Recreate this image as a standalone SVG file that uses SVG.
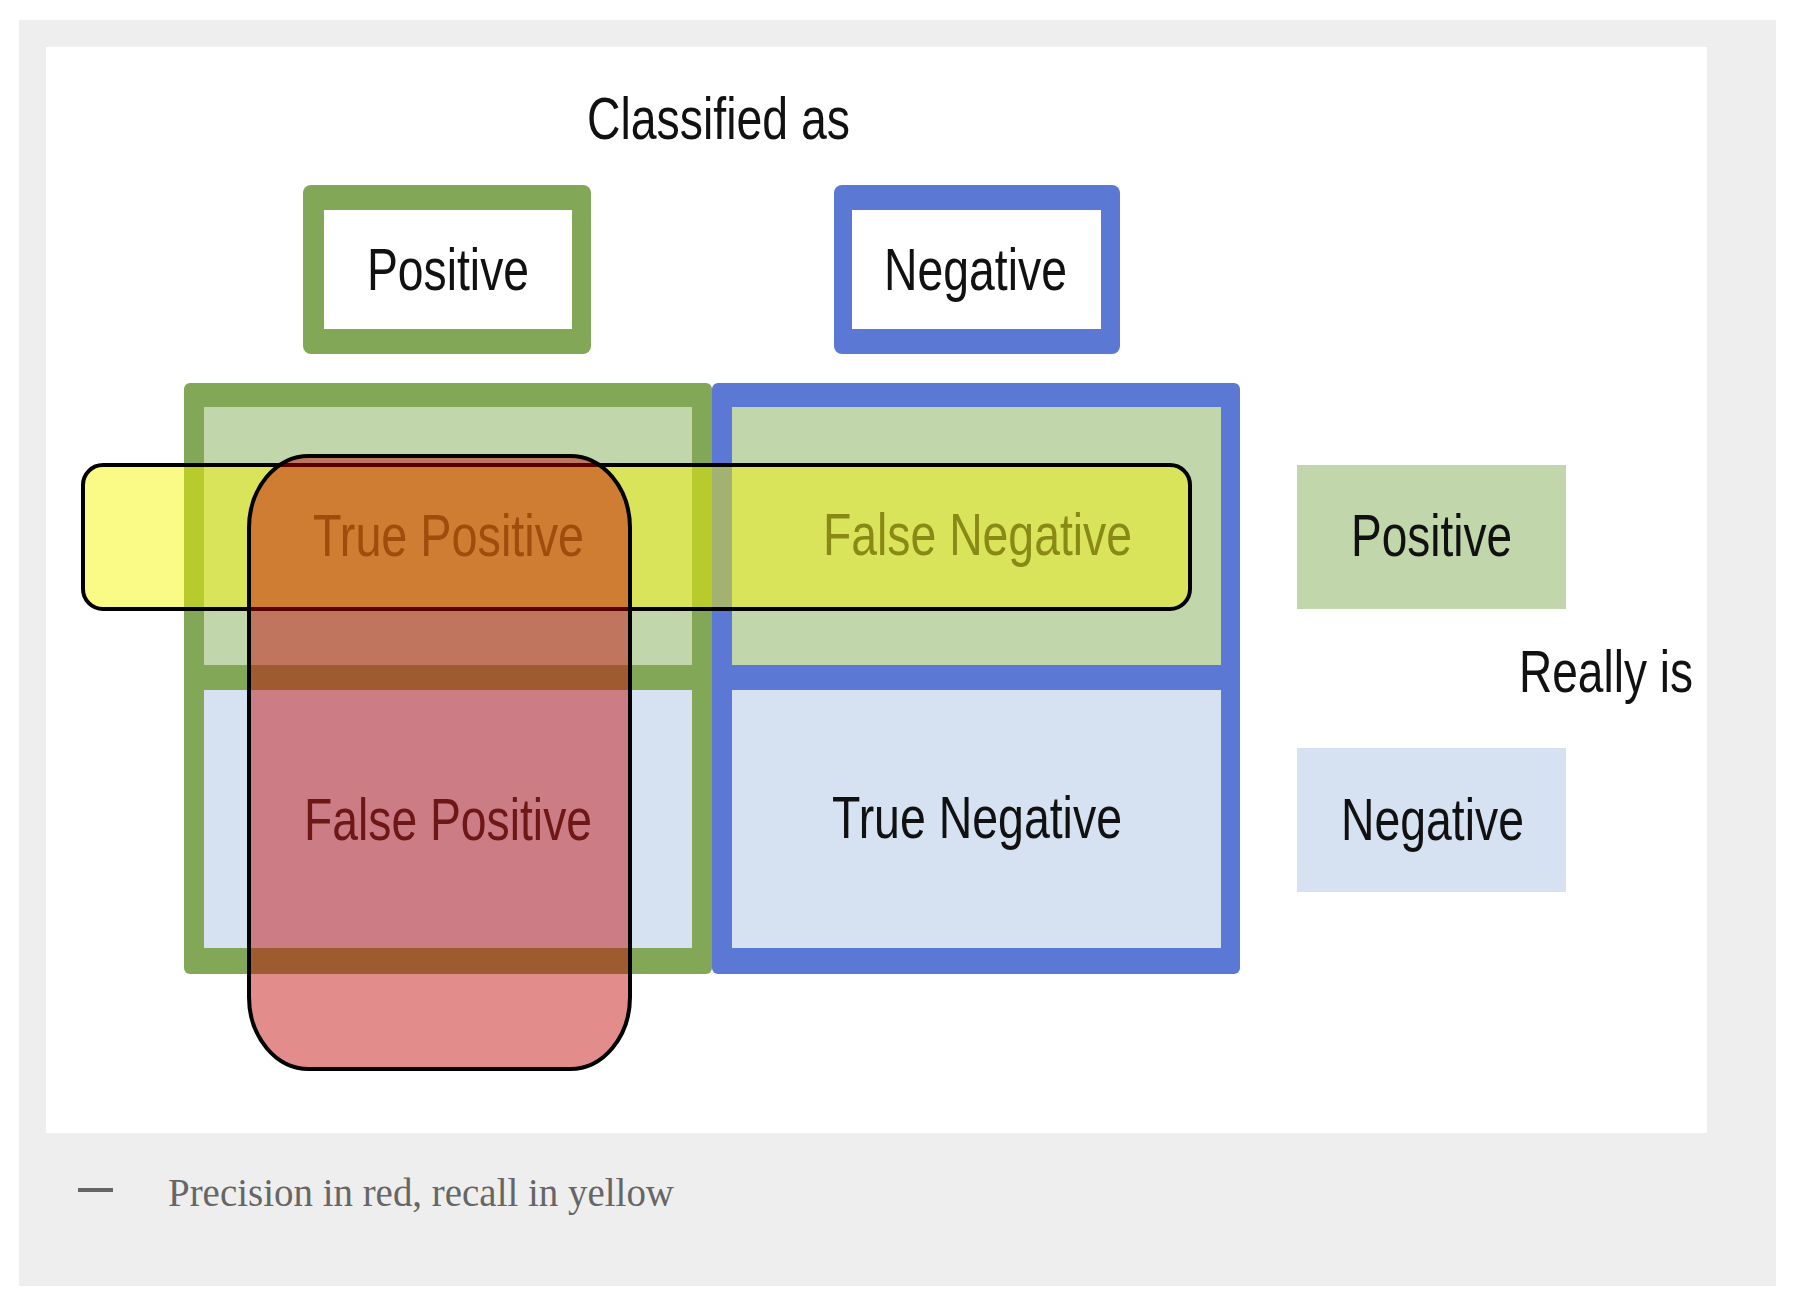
<svg xmlns="http://www.w3.org/2000/svg" width="1794" height="1311" viewBox="0 0 1794 1311">
  <defs>
    <style>
      .lbl { font-family: "Liberation Sans", Arial, sans-serif; font-size: 60px; fill: #111111; }
      .cell { font-family: "Liberation Sans", Arial, sans-serif; font-size: 60px; fill: #2b2b2b; }
      .green { fill: #82A756; }
      .blue { fill: #5B78D5; }
      .lgreen { fill: #C2D6AC; }
      .lblue { fill: #D6E2F2; }
      .white { fill: #FFFFFF; }
      .recall { fill: #F4F400; fill-opacity: 0.47; stroke: #000000; stroke-width: 4; }
      .precision { fill: #BE0000; fill-opacity: 0.45; stroke: #000000; stroke-width: 4; }
      .caption { font-family: "Liberation Serif", "DejaVu Serif", serif; font-size: 39px; fill: #666666; }
    </style>
  </defs>

  <rect x="0" y="0" width="1794" height="1311" fill="#FFFFFF"/>
  <rect x="19" y="20" width="1757" height="1266" fill="#EEEEEE"/>
  <rect x="46" y="47" width="1661" height="1086" fill="#FFFFFF"/>

  <g id="title">
    <text class="lbl" x="587" y="139" textLength="263" lengthAdjust="spacingAndGlyphs">Classified as</text>
  </g>

  <g id="header-positive">
    <rect class="green" x="303" y="185" width="288" height="169" rx="8"/>
    <rect class="white" x="324" y="210" width="248" height="119"/>
    <text class="lbl" x="367" y="290" textLength="162" lengthAdjust="spacingAndGlyphs">Positive</text>
  </g>

  <g id="header-negative">
    <rect class="blue" x="834" y="185" width="286" height="169" rx="8"/>
    <rect class="white" x="852" y="210" width="249" height="119"/>
    <text class="lbl" x="884" y="290" textLength="183" lengthAdjust="spacingAndGlyphs">Negative</text>
  </g>

  <g id="column-positive">
    <rect class="green" x="184" y="383" width="528" height="591" rx="6"/>
    <rect class="lgreen" x="204" y="407" width="488" height="258"/>
    <rect class="lblue" x="204" y="690" width="488" height="258"/>
  </g>

  <g id="column-negative">
    <rect class="blue" x="712" y="383" width="528" height="591" rx="6"/>
    <rect class="lgreen" x="732" y="407" width="489" height="258"/>
    <rect class="lblue" x="732" y="690" width="489" height="258"/>
  </g>

  <g id="cell-true-positive">
    <text class="cell" x="313" y="556" textLength="271" lengthAdjust="spacingAndGlyphs">True Positive</text>
  </g>
  <g id="cell-false-negative">
    <text class="cell" x="823" y="555" textLength="309" lengthAdjust="spacingAndGlyphs">False Negative</text>
  </g>
  <g id="cell-false-positive">
    <text class="cell" x="304" y="840" textLength="288" lengthAdjust="spacingAndGlyphs">False Positive</text>
  </g>
  <g id="cell-true-negative">
    <text class="lbl" x="832" y="838" textLength="290" lengthAdjust="spacingAndGlyphs">True Negative</text>
  </g>

  <g id="recall">
    <rect class="recall" x="83" y="465" width="1107" height="144" rx="20"/>
  </g>

  <g id="precision">
    <rect class="precision" x="249" y="456" width="381" height="613" rx="60" ry="72"/>
  </g>

  <g id="connectors"></g>

  <g id="legend-positive">
    <rect class="lgreen" x="1297" y="465" width="269" height="144"/>
    <text class="lbl" x="1351" y="556" textLength="161" lengthAdjust="spacingAndGlyphs">Positive</text>
  </g>

  <g id="legend-really-is">
    <text class="lbl" x="1519" y="692" textLength="174" lengthAdjust="spacingAndGlyphs">Really is</text>
  </g>

  <g id="legend-negative">
    <rect class="lblue" x="1297" y="748" width="269" height="144"/>
    <text class="lbl" x="1341" y="840" textLength="183" lengthAdjust="spacingAndGlyphs">Negative</text>
  </g>

  <g id="caption">
    <rect x="78" y="1188" width="35" height="4" fill="#666666"/>
    <text class="caption" x="168" y="1206" textLength="506" lengthAdjust="spacingAndGlyphs">Precision in red, recall in yellow</text>
  </g>
</svg>
